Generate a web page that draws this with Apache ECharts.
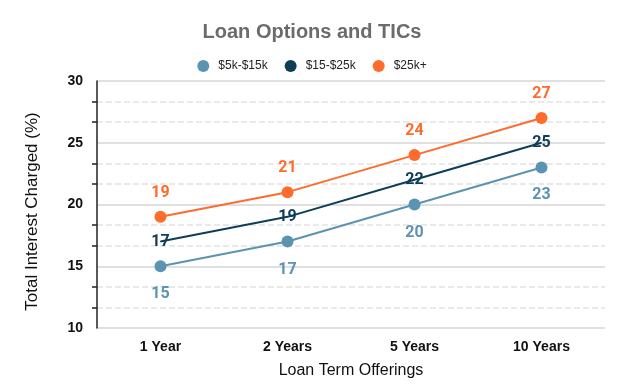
<!DOCTYPE html>
<html><head><meta charset="utf-8">
<script src="https://cdn.jsdelivr.net/npm/echarts@6/dist/echarts.min.js"></script>
<style>html,body{margin:0;padding:0;background:#fff}#c{width:624px;height:385px}</style>
</head><body><div id="c"></div>
<script>
const categories = ['1 Year', '2 Years', '5 Years', '10 Years'];
const seriesNames = ['$5k-$15k', '$15-$25k', '$25k+'];
const low = [15, 17, 20, 23];
const mid = [17, 19, 22, 25];
const high = [19, 21, 24, 27];
const colors = ['#5b93b0', '#0e3d58', '#ff6b2c'];

const chart = echarts.init(document.getElementById('c'));
const lbl = (pos, color, d) => ({show: true, position: pos, distance: d, color: color, fontFamily: 'Roboto', fontWeight: 'bold', fontSize: 16});
chart.setOption({
  animation: false,
  title: {text: 'Loan Options and TICs', left: 'center', top: 17,
    textStyle: {fontFamily: 'Liberation Sans', fontWeight: 'bold', fontSize: 20, color: '#6b6b6b'}},
  legend: {top: 55, left: 'center', itemWidth: 12, itemHeight: 12, itemGap: 17,
    textStyle: {fontFamily: 'Liberation Sans', fontSize: 12, color: '#222', padding: [0, 0, 0, 4]},
    data: seriesNames.map(n => ({name: n, icon: 'circle'}))},
  grid: {left: 97, right: 19, top: 81, bottom: 57, outerBoundsMode: 'none', containLabel: false},
  xAxis: {type: 'category', data: categories, boundaryGap: true,
    axisLine: {show: false}, axisTick: {show: false},
    axisLabel: {fontFamily: 'Liberation Sans', fontWeight: 'bold', fontSize: 14, color: '#111', margin: 12},
    name: 'Loan Term Offerings', nameLocation: 'middle', nameGap: 35,
    nameTextStyle: {fontFamily: 'Liberation Sans', fontSize: 16, color: '#111'}},
  yAxis: {type: 'value', min: 10, max: 30, interval: 5,
    axisLine: {show: true, lineStyle: {color: '#222', width: 1.5}},
    axisTick: {show: false},
    minorTick: {show: true, splitNumber: 3, length: 5, lineStyle: {color: '#222', width: 1.5}},
    splitLine: {lineStyle: {color: '#d6d6d6', width: 1.5}},
    minorSplitLine: {show: true, lineStyle: {color: '#e2e2e2', width: 1.5, type: 'dashed'}},
    axisLabel: {fontFamily: 'Liberation Sans', fontWeight: 'bold', fontSize: 14, color: '#111', margin: 14},
    name: 'Total Interest Charged (%)', nameLocation: 'middle', nameGap: 56,
    nameTextStyle: {fontFamily: 'Liberation Sans', fontSize: 17, color: '#111', padding: [0, 14, 0, 0]}},
  series: [
    {name: seriesNames[0], type: 'line', data: low, color: colors[0], symbol: 'circle', symbolSize: 12,
      lineStyle: {width: 2}, label: lbl('bottom', colors[0], 14)},
    {name: seriesNames[1], type: 'line', data: mid, color: colors[1], symbol: 'circle', symbolSize: 1,
      lineStyle: {width: 2}, label: {show: true, position: 'inside', color: colors[1], fontFamily: 'Roboto', fontWeight: 'bold', fontSize: 16}},
    {name: seriesNames[2], type: 'line', data: high, color: colors[2], symbol: 'circle', symbolSize: 12,
      lineStyle: {width: 2}, label: lbl('top', colors[2], 10)}
  ]
});
</script></body></html>
